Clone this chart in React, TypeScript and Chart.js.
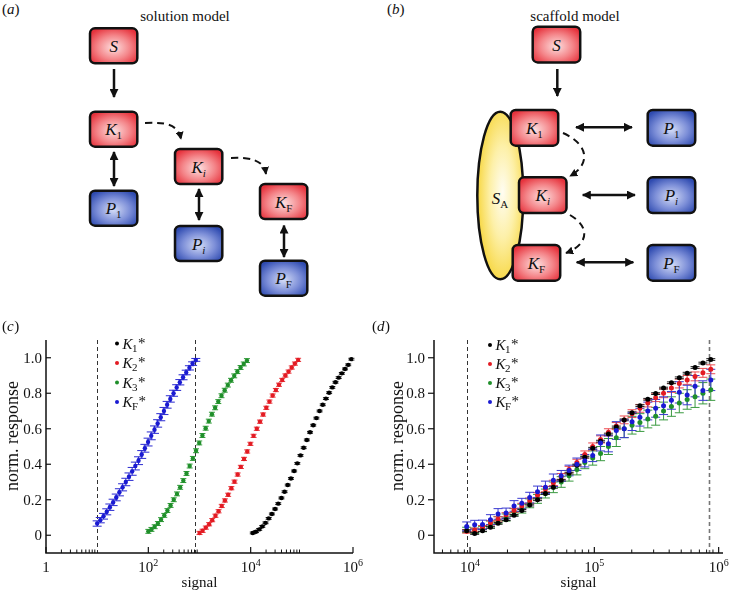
import React, { useEffect, useRef } from 'react';
import { Chart, registerables } from 'chart.js';
Chart.register(...registerables);

const SERIF = '"Liberation Serif", "DejaVu Serif", serif';

// ---------- panel (c) data ----------
const SIGNAL_K1_C = [11000, 12700, 14700, 16900, 19500, 22500, 26000, 30000, 34600, 39900, 46000, 53100, 61300, 70700, 81600, 94200, 108700, 125400, 144700, 167000, 192600, 222300, 256500, 295900, 341500, 394000, 454700, 524700, 605400, 698600, 806200, 930300];
const SIGNAL_K2_C = [1000, 1150, 1330, 1540, 1770, 2050, 2360, 2720, 3140, 3630, 4190, 4830, 5570, 6430, 7420, 8560, 9880, 11400, 13200, 15200, 17500, 20200, 23300, 26900, 31100, 35800, 41300, 47700, 55000, 63500, 73300, 84600];
const SIGNAL_K3_C = [100, 115, 133, 154, 177, 205, 236, 272, 314, 363, 419, 483, 557, 643, 742, 856, 988, 1140, 1320, 1520, 1750, 2020, 2330, 2690, 3110, 3580, 4130, 4770, 5500, 6350, 7330, 8460];
const SIGNAL_KF_C = [10, 11.5, 13.3, 15.4, 17.7, 20.5, 23.6, 27.2, 31.4, 36.3, 41.9, 48.3, 55.7, 64.3, 74.2, 85.6, 98.8, 114, 132, 152, 175, 202, 233, 269, 311, 358, 413, 477, 550, 635, 733, 846];

const K1_C = [0.013, 0.02, 0.033, 0.05, 0.07, 0.095, 0.12, 0.148, 0.178, 0.21, 0.245, 0.283, 0.32, 0.362, 0.405, 0.45, 0.493, 0.537, 0.58, 0.62, 0.66, 0.7, 0.735, 0.77, 0.803, 0.833, 0.862, 0.888, 0.912, 0.937, 0.96, 0.992];
const K2_C = [0.013, 0.025, 0.043, 0.062, 0.085, 0.11, 0.135, 0.165, 0.196, 0.228, 0.265, 0.302, 0.342, 0.385, 0.43, 0.472, 0.515, 0.56, 0.6, 0.64, 0.68, 0.718, 0.753, 0.787, 0.818, 0.848, 0.875, 0.9, 0.922, 0.945, 0.967, 0.988];
const K3_C = [0.022, 0.033, 0.048, 0.066, 0.088, 0.112, 0.139, 0.168, 0.2, 0.233, 0.27, 0.308, 0.348, 0.39, 0.433, 0.476, 0.52, 0.562, 0.603, 0.643, 0.682, 0.718, 0.753, 0.786, 0.817, 0.846, 0.873, 0.898, 0.922, 0.945, 0.965, 0.984];
const KF_C = [0.066, 0.085, 0.107, 0.132, 0.158, 0.185, 0.213, 0.242, 0.27, 0.3, 0.33, 0.36, 0.39, 0.42, 0.455, 0.49, 0.525, 0.56, 0.595, 0.63, 0.665, 0.7, 0.735, 0.768, 0.8, 0.832, 0.862, 0.89, 0.917, 0.943, 0.967, 0.988];
const ERR_K1_C = [0.005];
const ERR_K2_C = [0.009];
const ERR_K3_C = [0.011];
const ERR_KF_C = [0.015, 0.015, 0.016, 0.017, 0.018, 0.018, 0.019, 0.02, 0.02, 0.021, 0.021, 0.022, 0.022, 0.022, 0.022, 0.022, 0.022, 0.022, 0.021, 0.021, 0.02, 0.02, 0.019, 0.018, 0.017, 0.016, 0.015, 0.014, 0.013, 0.012, 0.01, 0.008];

// ---------- panel (d) data ----------
const SIGNAL_D = [9400, 10900, 12600, 14600, 16800, 19500, 22600, 26100, 30200, 34900, 40400, 46800, 54100, 62600, 72400, 83800, 97000, 112200, 129800, 150200, 173800, 201100, 232700, 269200, 311500, 360400, 417000, 482500, 558200, 645900, 747300, 864600];
const K1_D = [0.025, 0.01, 0.026, 0.045, 0.067, 0.088, 0.112, 0.14, 0.17, 0.2, 0.235, 0.27, 0.31, 0.35, 0.395, 0.44, 0.49, 0.53, 0.57, 0.61, 0.65, 0.69, 0.73, 0.766, 0.798, 0.829, 0.859, 0.887, 0.913, 0.945, 0.97, 0.99];
const K2_D = [0.022, 0.03, 0.045, 0.07, 0.092, 0.115, 0.14, 0.165, 0.195, 0.225, 0.26, 0.295, 0.33, 0.37, 0.41, 0.455, 0.5, 0.54, 0.58, 0.615, 0.65, 0.685, 0.715, 0.745, 0.775, 0.8, 0.83, 0.855, 0.875, 0.895, 0.915, 0.935];
const K3_D = [0.03, 0.025, 0.035, 0.06, 0.085, 0.1, 0.13, 0.15, 0.18, 0.205, 0.235, 0.27, 0.3, 0.335, 0.37, 0.41, 0.435, 0.46, 0.5, 0.55, 0.6, 0.62, 0.635, 0.655, 0.67, 0.7, 0.725, 0.745, 0.765, 0.78, 0.8, 0.82];
const KF_D = [0.05, 0.059, 0.06, 0.088, 0.12, 0.125, 0.165, 0.18, 0.212, 0.245, 0.27, 0.31, 0.335, 0.365, 0.4, 0.42, 0.45, 0.52, 0.515, 0.59, 0.6, 0.64, 0.665, 0.7, 0.715, 0.73, 0.76, 0.805, 0.79, 0.84, 0.815, 0.875];
const ERR_K1_D = [0.005];
const ERR_K2_D = [0.01, 0.01, 0.01, 0.012, 0.012, 0.012, 0.012, 0.015, 0.015, 0.015, 0.015, 0.015, 0.018, 0.018, 0.018, 0.02, 0.02, 0.02, 0.02, 0.02, 0.022, 0.022, 0.022, 0.022, 0.022, 0.025, 0.025, 0.025, 0.025, 0.025, 0.025, 0.025];
const ERR_K3_D = [0.015, 0.015, 0.015, 0.02, 0.02, 0.02, 0.02, 0.025, 0.025, 0.025, 0.025, 0.03, 0.03, 0.03, 0.03, 0.035, 0.04, 0.04, 0.045, 0.05, 0.05, 0.05, 0.05, 0.05, 0.05, 0.05, 0.055, 0.055, 0.055, 0.06, 0.06, 0.06];
const ERR_KF_D = [0.025, 0.025, 0.025, 0.028, 0.03, 0.028, 0.03, 0.028, 0.03, 0.032, 0.035, 0.035, 0.03, 0.03, 0.035, 0.035, 0.035, 0.045, 0.045, 0.05, 0.05, 0.05, 0.05, 0.05, 0.05, 0.05, 0.05, 0.06, 0.055, 0.06, 0.055, 0.06];

// ---------- axis tick values ----------
const Y_TICKS = [0, 0.2, 0.4, 0.6, 0.8, 1.0];
const Y_TICK_LABELS = ['0', '0.2', '0.4', '0.6', '0.8', '1.0'];
const X_MAJOR_C = [1, 100, 10000, 1000000];
const X_MINOR_C = [2, 3, 4, 5, 6, 7, 8, 9, 200, 300, 400, 500, 600, 700, 800, 900, 20000, 30000, 40000, 50000, 60000, 70000, 80000, 90000];
const X_LABELS_C = [{ v: 1, base: '1', exp: '' }, { v: 100, base: '10', exp: '2' }, { v: 10000, base: '10', exp: '4' }, { v: 1000000, base: '10', exp: '6' }];
const X_MAJOR_D = [10000, 100000, 1000000];
const X_MINOR_D = [6000, 7000, 8000, 9000, 20000, 30000, 40000, 50000, 60000, 70000, 80000, 90000, 200000, 300000, 400000, 500000, 600000, 700000, 800000, 900000];
const X_LABELS_D = [{ v: 10000, base: '10', exp: '4' }, { v: 100000, base: '10', exp: '5' }, { v: 1000000, base: '10', exp: '6' }];

const BLACK = '#000000';
const RED = '#e31b23';
const GREEN = '#1f8f2a';
const BLUE = '#1a1ad2';

type Series = { sub: string; color: string; errColor: string; x: number[]; y: number[]; err: number[]; cap: number; order: number };
type Cfg = {
  tag: string; left: number; xMin: number; xMax: number;
  pad: { left: number; right: number; top: number; bottom: number };
  majors: number[]; minors: number[]; xLabels: { v: number; base: string; exp: string }[];
  dashed: { v: number; color: string; width: number }[];
  legendX: number; legendY: number; legendDy: number;
  yTickOut: boolean; yLabelGap: number; yTitleX: number;
  pointRadius: number; series: Series[];
};

const panelC: Cfg = {
  tag: 'c', left: 0, xMin: 1, xMax: 1000000,
  pad: { left: 46, right: 17, top: 20, bottom: 41 },
  majors: X_MAJOR_C, minors: X_MINOR_C, xLabels: X_LABELS_C,
  dashed: [{ v: 10, color: '#333', width: 1 }, { v: 820, color: '#333', width: 1 }],
  legendX: 117, legendY: 23.5, legendDy: 19.5,
  yTickOut: false, yLabelGap: 4, yTitleX: 13,
  pointRadius: 2.2,
  series: [
    { sub: '1', color: BLACK, errColor: '#111', x: SIGNAL_K1_C, y: K1_C, err: ERR_K1_C, cap: 3, order: 3 },
    { sub: '2', color: RED, errColor: '#e8383e', x: SIGNAL_K2_C, y: K2_C, err: ERR_K2_C, cap: 3, order: 2 },
    { sub: '3', color: GREEN, errColor: '#2f9a36', x: SIGNAL_K3_C, y: K3_C, err: ERR_K3_C, cap: 3, order: 1 },
    { sub: 'F', color: BLUE, errColor: '#2a2ad0', x: SIGNAL_KF_C, y: KF_C, err: ERR_KF_C, cap: 4.5, order: 0 },
  ],
};

const panelD: Cfg = {
  tag: 'd', left: 370, xMin: 5130, xMax: 1084000,
  pad: { left: 64, right: 17, top: 20, bottom: 41 },
  majors: X_MAJOR_D, minors: X_MINOR_D, xLabels: X_LABELS_D,
  dashed: [{ v: 9400, color: '#333', width: 1 }, { v: 840000, color: '#777', width: 1.6 }],
  legendX: 120, legendY: 25, legendDy: 19,
  yTickOut: true, yLabelGap: 9, yTitleX: 28,
  pointRadius: 2.5,
  series: [
    { sub: '1', color: BLACK, errColor: '#222', x: SIGNAL_D, y: K1_D, err: ERR_K1_D, cap: 4.5, order: 1 },
    { sub: '2', color: RED, errColor: '#ec4a4f', x: SIGNAL_D, y: K2_D, err: ERR_K2_D, cap: 4.5, order: 2 },
    { sub: '3', color: GREEN, errColor: '#3a9a40', x: SIGNAL_D, y: K3_D, err: ERR_K3_D, cap: 4.5, order: 3 },
    { sub: 'F', color: BLUE, errColor: '#3a3ad0', x: SIGNAL_D, y: KF_D, err: ERR_KF_D, cap: 4.5, order: 0 },
  ],
};

function errAt(arr: number[], j: number) {
  return arr.length === 1 ? arr[0] : arr[j];
}

function decorPlugin(cfg: Cfg) {
  return {
    id: 'decor' + cfg.tag,
    beforeDatasetsDraw(chart: any) {
      const { ctx, chartArea: a, scales } = chart;
      const xs = scales.x, ys = scales.y;
      ctx.save();
      for (const d of cfg.dashed) {
        const px = Math.round(xs.getPixelForValue(d.v)) + 0.5;
        ctx.beginPath();
        ctx.setLineDash([4, 3]);
        ctx.strokeStyle = d.color;
        ctx.lineWidth = d.width;
        ctx.moveTo(px, a.top);
        ctx.lineTo(px, a.bottom);
        ctx.stroke();
      }
      ctx.setLineDash([]);
      const orderIdx = cfg.series.map((s, i) => i).sort((p, q) => cfg.series[q].order - cfg.series[p].order);
      for (const i of orderIdx) {
        const s = cfg.series[i];
        const meta = chart.getDatasetMeta(i);
        ctx.strokeStyle = s.errColor;
        ctx.lineWidth = 1;
        meta.data.forEach((pt: any, j: number) => {
          const e = errAt(s.err, j);
          const v = s.y[j];
          const y1 = ys.getPixelForValue(v + e);
          const y2 = ys.getPixelForValue(v - e);
          const x = pt.x;
          ctx.beginPath();
          ctx.moveTo(x, y1); ctx.lineTo(x, y2);
          ctx.moveTo(x - s.cap, y1); ctx.lineTo(x + s.cap, y1);
          ctx.moveTo(x - s.cap, y2); ctx.lineTo(x + s.cap, y2);
          ctx.stroke();
        });
      }
      ctx.restore();
    },
    afterDraw(chart: any) {
      const { ctx, chartArea: a, scales } = chart;
      const xs = scales.x, ys = scales.y;
      ctx.save();
      ctx.strokeStyle = '#111';
      ctx.fillStyle = '#111';
      // axes
      ctx.lineWidth = 1.5;
      ctx.beginPath();
      ctx.moveTo(a.left, a.top);
      ctx.lineTo(a.left, a.bottom);
      ctx.lineTo(a.right, a.bottom);
      ctx.stroke();
      // y ticks + labels
      ctx.lineWidth = 1.2;
      ctx.font = `15px ${SERIF}`;
      ctx.textAlign = 'right';
      ctx.textBaseline = 'middle';
      Y_TICKS.forEach((v, k) => {
        const py = ys.getPixelForValue(v);
        ctx.beginPath();
        if (cfg.yTickOut) { ctx.moveTo(a.left, py); ctx.lineTo(a.left - 6, py); }
        else { ctx.moveTo(a.left, py); ctx.lineTo(a.left + 5, py); }
        ctx.stroke();
        ctx.fillText(Y_TICK_LABELS[k], a.left - cfg.yLabelGap, py + 1);
      });
      // x ticks
      for (const v of cfg.majors) {
        const px = xs.getPixelForValue(v);
        ctx.beginPath(); ctx.moveTo(px, a.bottom); ctx.lineTo(px, a.bottom - 6); ctx.stroke();
      }
      ctx.lineWidth = 1;
      for (const v of cfg.minors) {
        if (v < cfg.xMin || v > cfg.xMax) continue;
        const px = xs.getPixelForValue(v);
        ctx.beginPath(); ctx.moveTo(px, a.bottom); ctx.lineTo(px, a.bottom - 3.5); ctx.stroke();
      }
      // x tick labels
      ctx.textAlign = 'left';
      ctx.textBaseline = 'alphabetic';
      for (const l of cfg.xLabels) {
        const px = xs.getPixelForValue(l.v);
        ctx.font = `15px ${SERIF}`;
        const wb = ctx.measureText(l.base).width;
        ctx.font = `10px ${SERIF}`;
        const we = l.exp ? ctx.measureText(l.exp).width : 0;
        const x0 = px - (wb + we) / 2;
        const base = a.bottom + 19;
        ctx.font = `15px ${SERIF}`;
        ctx.fillText(l.base, x0, base);
        if (l.exp) {
          ctx.font = `10px ${SERIF}`;
          ctx.fillText(l.exp, x0 + wb, base - 6);
        }
      }
      // axis titles
      ctx.font = `15px ${SERIF}`;
      ctx.textAlign = 'center';
      ctx.fillText('signal', (a.left + a.right) / 2, a.bottom + 34);
      ctx.save();
      ctx.translate(cfg.yTitleX, 116);
      ctx.rotate(-Math.PI / 2);
      ctx.font = `18px ${SERIF}`;
      ctx.textBaseline = 'middle';
      ctx.fillText('norm. response', 0, 0);
      ctx.restore();
      // panel tag
      ctx.textAlign = 'left';
      ctx.textBaseline = 'alphabetic';
      ctx.font = `15px ${SERIF}`;
      let tx = 2;
      ctx.fillText('(', tx, 11); tx += ctx.measureText('(').width;
      ctx.font = `italic 15px ${SERIF}`;
      ctx.fillText(cfg.tag, tx, 11); tx += ctx.measureText(cfg.tag).width + 0.5;
      ctx.font = `15px ${SERIF}`;
      ctx.fillText(')', tx, 11);
      // legend
      cfg.series.forEach((s, i) => {
        const y = cfg.legendY + i * cfg.legendDy;
        ctx.fillStyle = s.color;
        ctx.beginPath(); ctx.arc(cfg.legendX, y, 2, 0, Math.PI * 2); ctx.fill();
        ctx.fillStyle = '#111';
        const base = y + 5;
        let x = cfg.legendX + 5.5;
        ctx.font = `italic 15px ${SERIF}`;
        ctx.fillText('K', x, base);
        x += ctx.measureText('K').width - 0.5;
        ctx.font = `11px ${SERIF}`;
        ctx.fillText(s.sub, x, base + 3);
        x += ctx.measureText(s.sub).width + 0.5;
        ctx.font = `15px ${SERIF}`;
        ctx.fillText('*', x, base - 1);
      });
      ctx.restore();
    },
  };
}

function Panel({ cfg }: { cfg: Cfg }) {
  const ref = useRef<HTMLCanvasElement>(null);
  useEffect(() => {
    const canvas = ref.current!;
    const chart = new Chart(canvas, {
      type: 'scatter',
      data: {
        datasets: cfg.series.map((s) => ({
          label: 'K' + s.sub + '*',
          data: s.x.map((xv, j) => ({ x: xv, y: s.y[j] })),
          pointRadius: cfg.pointRadius,
          pointBackgroundColor: s.color,
          pointBorderColor: s.color,
          pointBorderWidth: 0,
          showLine: false,
          order: s.order,
        })),
      },
      options: {
        responsive: false,
        animation: false,
        events: [],
        layout: { padding: cfg.pad },
        scales: {
          x: { type: 'logarithmic', min: cfg.xMin, max: cfg.xMax, display: false },
          y: { type: 'linear', min: -0.1, max: 1.1, display: false },
        },
        plugins: { legend: { display: false }, tooltip: { enabled: false } },
      } as any,
      plugins: [decorPlugin(cfg)],
    });
    return () => chart.destroy();
  }, []);
  return (
    <canvas
      ref={ref}
      width={370}
      height={274}
      style={{ position: 'absolute', left: cfg.left, top: 320, width: 370, height: 274, display: 'block' }}
    />
  );
}

function Box({ x, y, w, h, fill, main, sub, subItalic }: any) {
  return (
    <g>
      <rect x={x} y={y} width={w} height={h} rx={5} ry={5} fill={`url(#${fill})`} stroke="#111" strokeWidth={2.5} />
      <text x={x + w / 2} y={y + h / 2 + 6} textAnchor="middle" fontFamily={SERIF} fontSize={17} fontStyle="italic" fill="#111">
        {main}
        {sub ? (
          <tspan fontSize={11} fontStyle={subItalic ? 'italic' : 'normal'} dy={4}>{sub}</tspan>
        ) : null}
      </text>
    </g>
  );
}

function Diagrams() {
  const aw = 47.3, ah = 35;
  const bw = 47.5, bh = 35.7;
  const arrow = { stroke: '#111', strokeWidth: 2.5, fill: 'none', markerEnd: 'url(#ah)' } as any;
  const dbl = { stroke: '#111', strokeWidth: 2.5, fill: 'none', markerEnd: 'url(#ah)', markerStart: 'url(#ah)' } as any;
  const dash = { stroke: '#111', strokeWidth: 2, fill: 'none', strokeDasharray: '7 5', markerEnd: 'url(#ahs)' } as any;
  return (
    <svg width={740} height={320} style={{ position: 'absolute', left: 0, top: 0 }}>
      <defs>
        <radialGradient id="gRed" cx="50%" cy="55%" r="62%">
          <stop offset="0" stopColor="#fde0e0" />
          <stop offset="0.55" stopColor="#f4868a" />
          <stop offset="1" stopColor="#e6323c" />
        </radialGradient>
        <radialGradient id="gBlue" cx="50%" cy="55%" r="62%">
          <stop offset="0" stopColor="#d4dcf6" />
          <stop offset="0.55" stopColor="#7d8fd8" />
          <stop offset="1" stopColor="#2f4bb0" />
        </radialGradient>
        <radialGradient id="gYel" cx="55%" cy="48%" r="55%">
          <stop offset="0" stopColor="#fffdf2" />
          <stop offset="0.5" stopColor="#fdf0a8" />
          <stop offset="1" stopColor="#f7d743" />
        </radialGradient>
        <marker id="ah" viewBox="0 0 10 10" refX="9" refY="5" markerWidth="9" markerHeight="9" markerUnits="userSpaceOnUse" orient="auto-start-reverse">
          <path d="M0,0 L10,5 L0,10 z" fill="#111" />
        </marker>
        <marker id="ahs" viewBox="0 0 10 10" refX="9" refY="5" markerWidth="8" markerHeight="8" markerUnits="userSpaceOnUse" orient="auto">
          <path d="M0,0 L10,5 L0,10 z" fill="#111" />
        </marker>
      </defs>

      {/* panel (a) */}
      <text x={2} y={14} fontFamily={SERIF} fontSize={15} fill="#111">(<tspan fontStyle="italic">a</tspan>)</text>
      <text x={185} y={21} textAnchor="middle" fontFamily={SERIF} fontSize={15} fill="#111">solution model</text>
      <line x1={114} y1={69} x2={114} y2={97} {...arrow} />
      <line x1={114} y1={152} x2={114} y2={186} {...dbl} />
      <line x1={199} y1={189} x2={199} y2={220} {...dbl} />
      <line x1={284} y1={225.5} x2={284} y2={257} {...dbl} />
      <path d="M145,123 C165,122 178,124 181,139" {...dash} />
      <path d="M231,158 C250,157 264,160 266,174" {...dash} />
      <Box x={90} y={28.3} w={aw} h={ah} fill="gRed" main="S" />
      <Box x={90} y={111.7} w={aw} h={ah} fill="gRed" main="K" sub="1" />
      <Box x={90} y={190.7} w={aw} h={ah} fill="gBlue" main="P" sub="1" />
      <Box x={175} y={149} w={aw} h={ah} fill="gRed" main="K" sub="i" subItalic />
      <Box x={175} y={226} w={aw} h={ah} fill="gBlue" main="P" sub="i" subItalic />
      <Box x={260} y={184} w={aw} h={ah} fill="gRed" main="K" sub="F" />
      <Box x={260} y={260.7} w={aw} h={ah} fill="gBlue" main="P" sub="F" />

      {/* panel (b) */}
      <text x={387} y={14} fontFamily={SERIF} fontSize={15} fill="#111">(<tspan fontStyle="italic">b</tspan>)</text>
      <text x={575} y={21} textAnchor="middle" fontFamily={SERIF} fontSize={15} fill="#111">scaffold model</text>
      <line x1={557.3} y1={69} x2={557.3} y2={96} {...arrow} />
      <ellipse cx={500.3} cy={195.5} rx={23} ry={83.8} fill="url(#gYel)" stroke="#111" strokeWidth={2.5} />
      <text x={500} y={204} textAnchor="middle" fontFamily={SERIF} fontSize={17} fontStyle="italic" fill="#111">
        S<tspan fontSize={11} fontStyle="normal" dy={4}>A</tspan>
      </text>
      <line x1={576} y1={127.3} x2={632} y2={127.3} {...dbl} />
      <line x1={582.7} y1={195} x2={635} y2={195} {...dbl} />
      <line x1={576.7} y1={262.3} x2={633.3} y2={262.3} {...dbl} />
      <path d="M563,133 C590,145 590,165 570,176" {...dash} />
      <path d="M570,215 C592,228 587,245 566,253" {...dash} />
      <Box x={532.7} y={26.7} w={bw} h={bh} fill="gRed" main="S" />
      <Box x={510.7} y={110} w={bw} h={bh} fill="gRed" main="K" sub="1" />
      <Box x={519} y={177.3} w={bw} h={bh} fill="gRed" main="K" sub="i" subItalic />
      <Box x={512.7} y={245} w={bw} h={bh} fill="gRed" main="K" sub="F" />
      <Box x={647.7} y={110} w={bw} h={bh} fill="gBlue" main="P" sub="1" />
      <Box x={647.7} y={177.3} w={bw} h={bh} fill="gBlue" main="P" sub="i" subItalic />
      <Box x={647.7} y={245} w={bw} h={bh} fill="gBlue" main="P" sub="F" />
    </svg>
  );
}

export default function App() {
  return (
    <div style={{ position: 'absolute', left: 0, top: 0, width: 740, height: 594, background: '#fff', overflow: 'hidden' }}>
      <Diagrams />
      <Panel cfg={panelC} />
      <Panel cfg={panelD} />
    </div>
  );
}
